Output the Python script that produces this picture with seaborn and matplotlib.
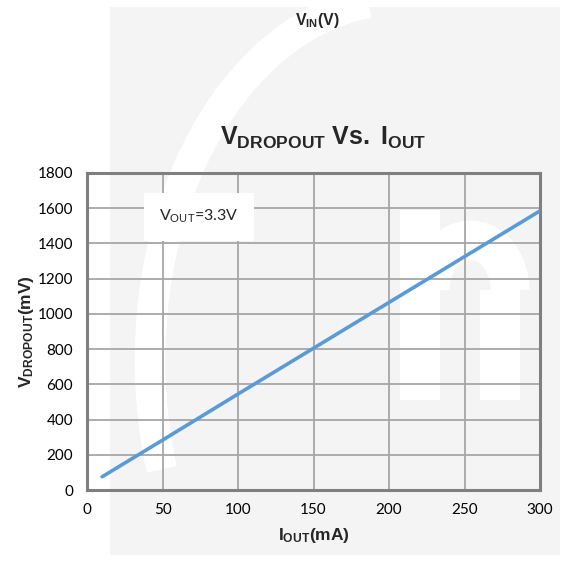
import matplotlib
matplotlib.use("Agg")
import matplotlib.pyplot as plt
import matplotlib.patches as mpatches
import seaborn as sns
import pandas as pd

# Data
i_out = [10, 50, 100, 150, 200, 250, 300]
v_dropout = [75, 283, 545, 805, 1065, 1325, 1585]
x_ticks = [0, 50, 100, 150, 200, 250, 300]
y_ticks = [0, 200, 400, 600, 800, 1000, 1200, 1400, 1600, 1800]

sns.set_theme(style="white")
plt.rcParams['font.family'] = ['Lato', 'DejaVu Sans']
plt.rcParams['mathtext.fontset'] = 'custom'
plt.rcParams['mathtext.bf'] = 'Liberation Sans:bold'
plt.rcParams['mathtext.rm'] = 'Lato'
plt.rcParams['mathtext.it'] = 'Lato'

W, H = 571, 562
fig = plt.figure(figsize=(W / 100, H / 100), dpi=100)
fig.patch.set_facecolor('white')


def px(x, y):
    return x / W, 1 - y / H


# faint background watermark
fig.patches.append(mpatches.Rectangle(px(110, 555), 450 / W, 548 / H, transform=fig.transFigure,
                                      facecolor='#f4f4f4', edgecolor='none', zorder=0))
fig.patches.append(mpatches.Arc(px(400, 360), 500 / W, 720 / H, theta1=95, theta2=205,
                                transform=fig.transFigure, color='white', linewidth=22, zorder=0.5))
fig.patches.append(mpatches.Rectangle(px(400, 400), 40 / W, 190 / H, transform=fig.transFigure,
                                      facecolor='white', edgecolor='none', zorder=0.5))
fig.patches.append(mpatches.Rectangle(px(480, 400), 40 / W, 110 / H, transform=fig.transFigure,
                                      facecolor='white', edgecolor='none', zorder=0.5))
fig.patches.append(mpatches.Arc(px(470, 290), 80 / W, 100 / H, theta1=0, theta2=180,
                                transform=fig.transFigure, color='white', linewidth=28, zorder=0.5))

ax = fig.add_axes([87 / W, 1 - 490 / H, (540 - 87) / W, (490 - 173) / H])
ax.set_zorder(2)
ax.set_facecolor('none')

df = pd.DataFrame({'I_OUT': i_out, 'V_DROPOUT': v_dropout})
sns.lineplot(data=df, x='I_OUT', y='V_DROPOUT', ax=ax, color='#5b9bd5', linewidth=2.6, zorder=3)

ax.set_xlim(0, 300)
ax.set_ylim(0, 1800)
ax.set_xticks(x_ticks)
ax.set_yticks(y_ticks)
ax.grid(True, color='#a6a6a6', linewidth=1.3)
ax.set_axisbelow(True)
for s in ax.spines.values():
    s.set_visible(True)
    s.set_color('#7f7f7f')
    s.set_linewidth(2.2)
ax.tick_params(axis='both', length=0, labelsize=11, colors='#000000')
ax.tick_params(axis='x', pad=9)
ax.tick_params(axis='y', pad=10)

ax.set_xlabel(r'$\mathbf{I_{OUT}(mA)}$', fontsize=12.5, labelpad=7)
ax.set_ylabel(r'$\mathbf{V_{DROPOUT}(mV)}$', fontsize=12.5, labelpad=1)

fig.text(323 / W, 1 - 138 / H, r'$\mathbf{V_{DROPOUT}\ Vs.\ I_{OUT}}$', fontsize=18,
         ha='center', va='center', zorder=3)
fig.text(317 / W, 1 - 20 / H, r'$\mathbf{V_{IN}(V)}$', fontsize=11.5, ha='center', va='center', zorder=3)

ax.text(0.16, 0.862, r'V$_{\mathrm{OUT}}$=3.3V', fontsize=11.5, ha='left', va='center',
        transform=ax.transAxes, zorder=4,
        bbox=dict(boxstyle='square,pad=0.95', facecolor='white', edgecolor='none'))

fig.savefig('out.png', dpi=100, facecolor='white')
